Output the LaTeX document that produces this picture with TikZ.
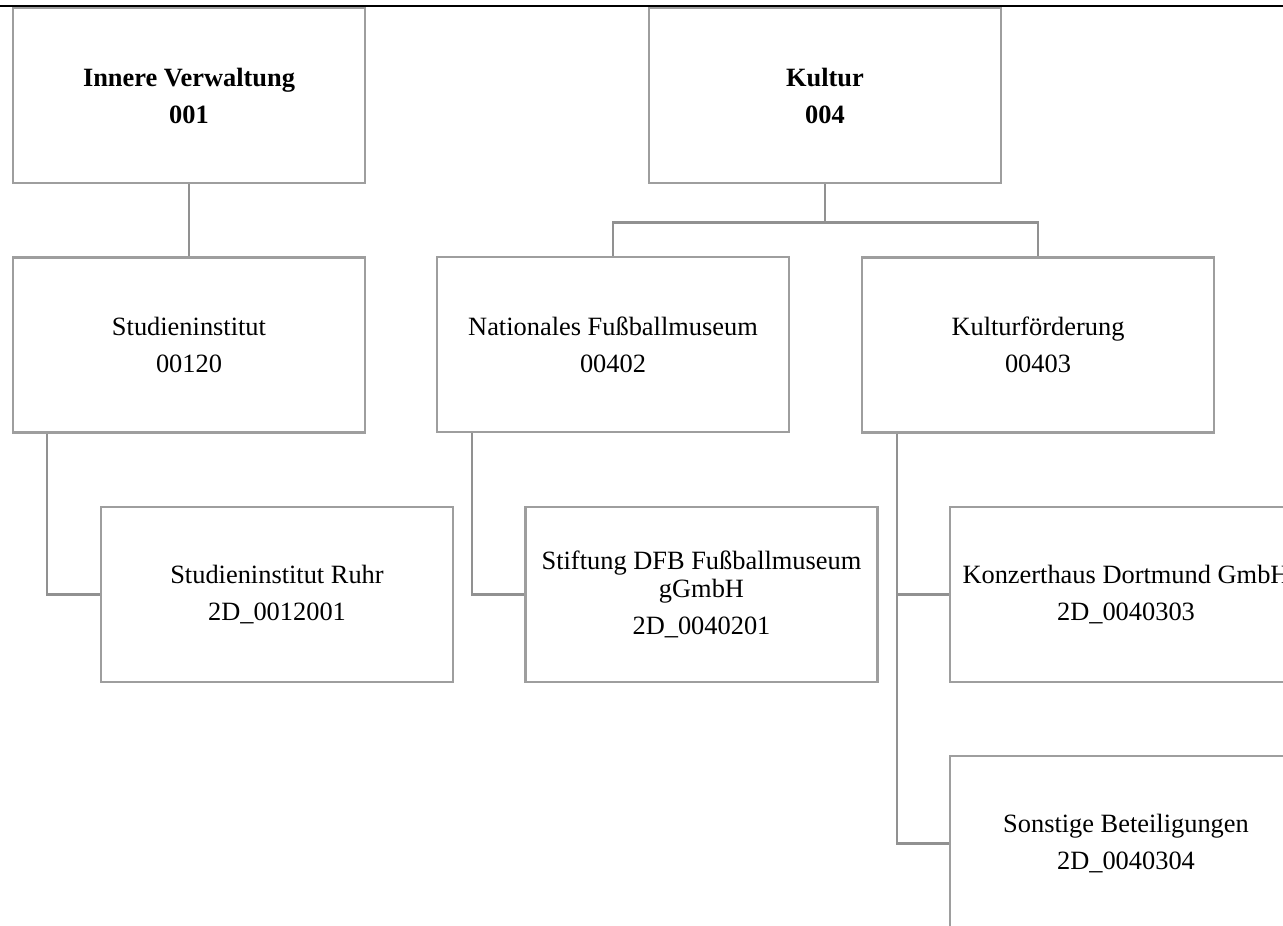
\documentclass[tikz,border=0pt]{standalone}
\usepackage{fontspec}
\setmainfont{Liberation Serif}
\definecolor{boxgray}{RGB}{158,158,158}
\definecolor{linegray}{RGB}{145,145,145}
\begin{document}
\begin{tikzpicture}[x=1pt,y=-1pt,
  box/.style={draw=boxgray, line width=2.5pt, minimum width=352pt, minimum height=175pt,
    inner sep=0pt, align=center, font=\fontsize{26.4}{37}\selectfont},
  boldbox/.style={box, font=\fontsize{26.4}{37}\selectfont\bfseries},
  conn/.style={draw=linegray, line width=2.5pt},
  rule/.style={draw=black, line width=2.5pt}]
\clip (0,0) rectangle (1283,926);
\fill[white] (0,0) rectangle (1283,926);
% top level
\node[boldbox] (iv) at (189,95.5) {Innere Verwaltung\\001};
\node[boldbox] (ku) at (825,95.5) {Kultur\\004};
% second level
\node[box] (si) at (189,345) {Studieninstitut\\00120};
\node[box] (nf) at (613,344.5) {Nationales Fußballmuseum\\00402};
\node[box] (kf) at (1038,345) {Kulturförderung\\00403};
% third level
\node[box] (sr) at (277,594.5) {Studieninstitut Ruhr\\2D\_0012001};
\node[box] (st) at (701.5,594.5) {Stiftung DFB Fußballmuseum\\[-9pt]gGmbH\\2D\_0040201};
\node[box] (kd) at (1126,594.5) {Konzerthaus Dortmund GmbH\\2D\_0040303};
\node[box] (sb) at (1126,843.5) {Sonstige Beteiligungen\\2D\_0040304};
% connectors
\draw[conn] (iv.south) -- (si.north);
\draw[conn] (ku.south) -- ++(0,38) -| (nf.north);
\draw[conn] (ku.south) -- ++(0,38) -| (kf.north);
\draw[conn] ([xshift=35pt]si.south west) |- (sr.west);
\draw[conn] ([xshift=36pt]nf.south west) |- (st.west);
\draw[conn] ([xshift=36pt]kf.south west) |- (kd.west);
\draw[conn] ([xshift=36pt]kf.south west) |- (sb.west);
% top rule
\coordinate (rl) at (0,6);
\coordinate (rr) at (1283,6);
\draw[rule] (rl) -- (rr);
\end{tikzpicture}
\end{document}
